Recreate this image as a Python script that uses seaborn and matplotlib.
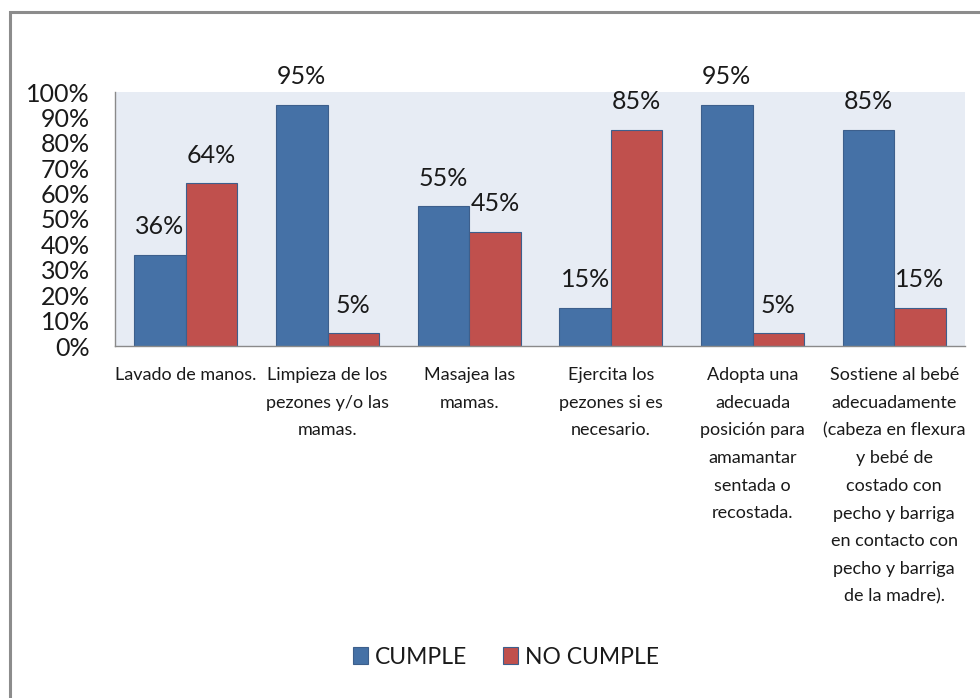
import matplotlib
matplotlib.use("Agg")
import matplotlib.pyplot as plt
import matplotlib.patches as mpatches
from matplotlib.ticker import FuncFormatter
import seaborn as sns
import pandas as pd

# Categories (wrapped the way they are printed under the axis)
categories = [
    "Lavado de manos.",
    "Limpieza de los\npezones y/o las\nmamas.",
    "Masajea las\nmamas.",
    "Ejercita los\npezones si es\nnecesario.",
    "Adopta una\nadecuada\nposición para\namamantar\nsentada o\nrecostada.",
    "Sostiene al bebé\nadecuadamente\n(cabeza en flexura\ny bebé de\ncostado con\npecho y barriga\nen contacto con\npecho y barriga\nde la madre).",
]
series_names = ["CUMPLE", "NO CUMPLE"]
cumple = [36, 95, 55, 15, 95, 85]
no_cumple = [64, 5, 45, 85, 5, 15]
y_ticks = list(range(0, 101, 10))

df = pd.DataFrame({
    "actividad": categories * 2,
    "grupo": [series_names[0]] * len(categories) + [series_names[1]] * len(categories),
    "porcentaje": cumple + no_cumple,
})

sns.set_theme(style="white")
plt.rcParams["font.family"] = ["Lato", "DejaVu Sans"]
plt.rcParams["text.color"] = "#1a1a1a"

fig = plt.figure(figsize=(9.8, 6.98), dpi=100)
fig.patch.set_facecolor("white")
ax = fig.add_axes([115 / 980, 1 - 346 / 698, 850 / 980, 254 / 698])

palette = {"CUMPLE": "#4571A6", "NO CUMPLE": "#C0504D"}
sns.barplot(data=df, x="actividad", y="porcentaje", hue="grupo", order=categories,
            hue_order=series_names, palette=palette, width=0.727, saturation=1,
            edgecolor="#3D5F8C", linewidth=0.8, ax=ax, legend=True)

ax.set_facecolor("#E7ECF4")
ax.set_ylim(0, 100)
ax.set_xlim(-0.5, len(categories) - 0.5)
ax.set_yticks(y_ticks)
ax.yaxis.set_major_formatter(FuncFormatter(lambda v, _: f"{v:.0f}%"))
ax.set_xlabel("")
ax.set_ylabel("")
for side in ("top", "right"):
    ax.spines[side].set_visible(False)
for side in ("left", "bottom"):
    ax.spines[side].set_color("#8A8A8A")
    ax.spines[side].set_linewidth(1.0)
ax.tick_params(axis="y", length=0, pad=18, labelsize=18, labelcolor="#1a1a1a")
ax.tick_params(axis="x", length=0, pad=15, labelsize=13, labelcolor="#1a1a1a")
for lab in ax.get_xticklabels():
    lab.set_linespacing(1.9)
    lab.set_horizontalalignment("center")

for container in ax.containers:
    ax.bar_label(container, fmt="%.0f%%", padding=12, fontsize=18, color="#1a1a1a")

leg = ax.get_legend()
leg.remove()
handles = [mpatches.Patch(facecolor=palette[n], edgecolor="#3D5F8C", linewidth=0.8) for n in series_names]
fig.legend(handles, series_names, loc="center", bbox_to_anchor=(506 / 980, 1 - 657 / 698),
           ncol=2, frameon=False, fontsize=16.5, handlelength=0.65, handleheight=0.72,
           handletextpad=0.3, columnspacing=1.6, borderaxespad=0)

# Chart-area frame (only the left and top edges fall inside the canvas)
fig.add_artist(mpatches.Rectangle((10 / 980, -0.05), 1.2, 1 - 12 / 698 + 0.05,
                                  transform=fig.transFigure, fill=False,
                                  edgecolor="#8C8C8C", linewidth=2.2, clip_on=False))

fig.savefig("out.png", dpi=100)
